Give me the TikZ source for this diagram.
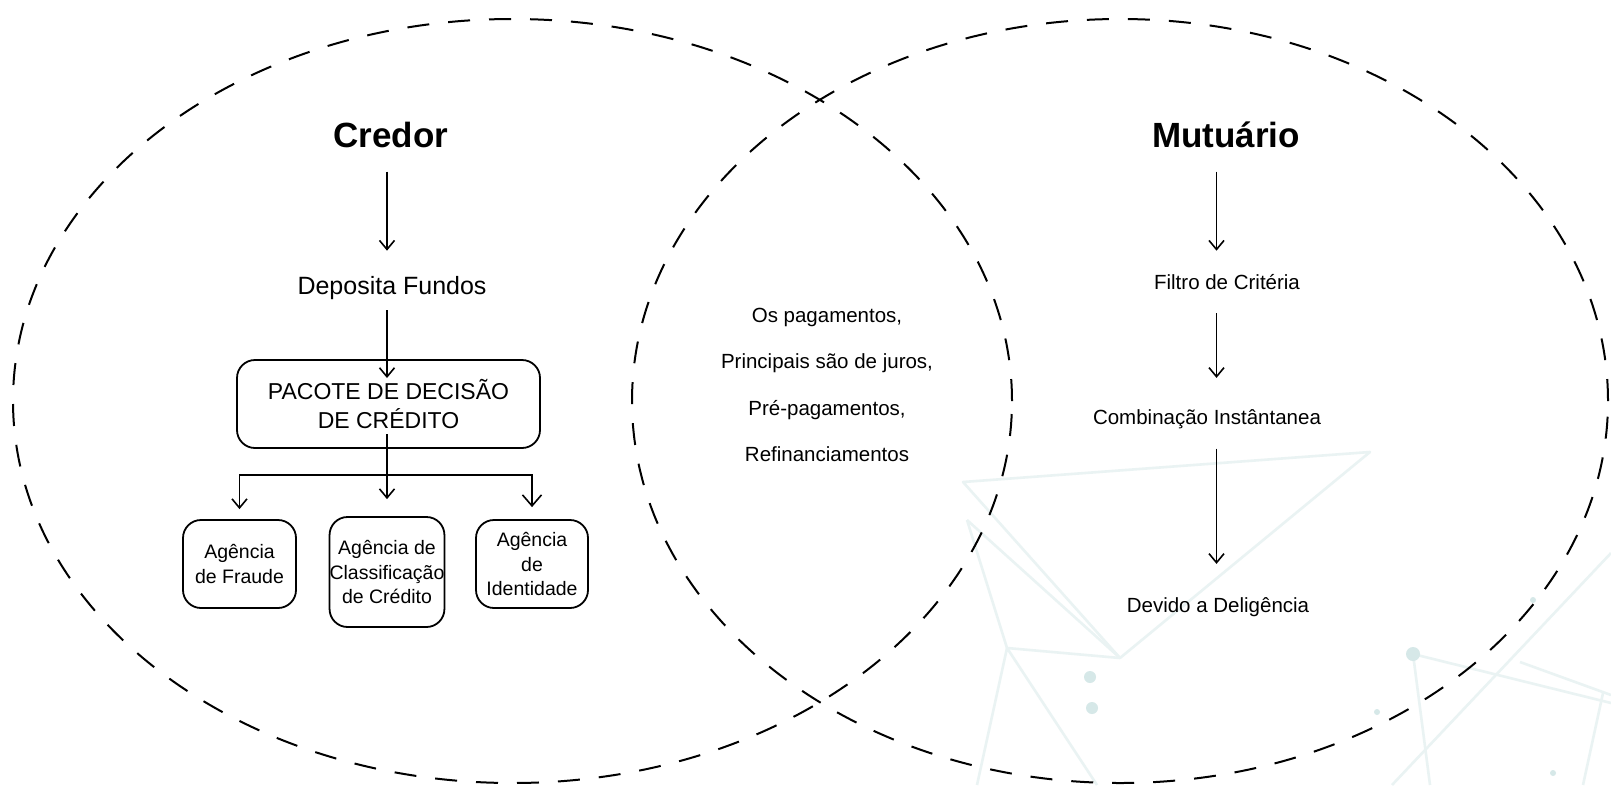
\documentclass[tikz,border=0pt]{standalone}
\usepackage{fontspec}
\setmainfont{Liberation Sans}
\usepackage{tikz}
\usetikzlibrary{positioning,calc,arrows.meta}
\definecolor{bgline}{RGB}{234,243,243}
\definecolor{bgdot}{RGB}{214,232,232}

\begin{document}
\begin{tikzpicture}[x=1pt,y=-1pt,
  seta/.style={line width=1.6pt, -{Straight Barb[length=9pt,width=15pt]}},
  circulo/.style={line width=2pt, dash pattern=on 22pt off 19pt},
  titulo/.style={anchor=base, inner sep=0pt, font=\fontsize{35}{40}\selectfont\bfseries},
  texto/.style={anchor=base, inner sep=0pt, font=\fontsize{20.5}{24}\selectfont},
  caixa/.style={draw, line width=1.8pt, rounded corners=18pt, align=center, inner sep=0pt, font=\fontsize{19.5}{24.5}\selectfont},
  fundo/.style={line width=2.6pt, bgline, line join=round},
  ponto/.style={fill=bgdot}]
\useasboundingbox (0,0) rectangle (1611,785);
\fill[white] (0,0) rectangle (1611,785);

\draw[fundo] (963,482) -- (1370,452) -- (1120,658) -- cycle;
\draw[fundo] (967,520) -- (1120,658);
\draw[fundo] (967,520) -- (1007,648) -- (1120,658);
\draw[fundo] (977,785) -- (1007,648) -- (1097,785);
\draw[fundo] (1430,785) -- (1413,654) -- (1611,703);
\draw[fundo] (1392,785) -- (1611,553);
\draw[fundo] (1520,662) -- (1611,695);
\draw[fundo] (1603,693) -- (1583,785);
\fill[ponto] (1090,677) circle[radius=6pt] (1092,708) circle[radius=6pt] (1413,654) circle[radius=7pt];
\fill[ponto] (1377,712) circle[radius=3pt] (1533,600) circle[radius=3pt] (1553,773) circle[radius=3pt];

\draw[circulo] (512.5,401) ellipse [x radius=499.5pt, y radius=382pt];
\draw[circulo] (1120,401) ellipse [x radius=488pt, y radius=382pt];

\node[titulo] (credor) at (391,147) {Credor};
\node[titulo] (mutuario) at (1226,147) {Mutuário};
\node[anchor=base, inner sep=0pt, font=\fontsize{25}{30}\selectfont] (deposita) at (392,294) {Deposita Fundos};
\node[caixa, minimum width=303pt, minimum height=88pt, font=\fontsize{23}{29}\selectfont] (pacote) at (388.5,404) {PACOTE DE DECISÃO\\DE CRÉDITO};
\node[caixa, minimum width=113pt, minimum height=88pt] (fraude) at (239.5,564) {Agência\\de Fraude};
\node[caixa, minimum width=112pt, minimum height=110pt] (classificacao) at (387,572) {Agência de\\Classificação\\de Crédito};
\node[caixa, minimum width=112pt, minimum height=88pt] (identidade) at (532,564) {Agência\\de\\Identidade};

\node[inner sep=0pt, align=center, font=\fontsize{20.5}{46.5}\selectfont] (pagamentos) at (827,385) {Os pagamentos,\\Principais são de juros,\\Pré-pagamentos,\\Refinanciamentos};

\node[texto] (filtro) at (1227,289) {Filtro de Critéria};
\node[texto] (combinacao) at (1207,424) {Combinação Instântanea};
\node[texto] (devido) at (1218,612) {Devido a Deligência};

\coordinate (colA) at (387,0);
\coordinate (colB) at (1216.5,0);
\coordinate (barra) at (387,475);
\draw[seta, shorten <=24pt, shorten >=25pt] (credor.south -| colA) -- (deposita.north -| colA);
\draw[seta, shorten <=11pt, shorten >=26pt] (deposita.south -| colA) -- (pacote.center -| colA);
\draw[seta, shorten <=30pt, shorten >=17pt] (pacote.center -| colA) -- (classificacao.north -| colA);
\draw[line width=1.6pt, {Straight Barb[length=9pt,width=15pt]}-{Straight Barb[length=11pt,width=19pt]}, shorten <=10pt, shorten >=12pt] (fraude.north) |- (barra) -| (identidade.north);

\draw[seta, shorten <=24pt, shorten >=23pt] (mutuario.south -| colB) -- (filtro.north -| colB);
\draw[seta, shorten <=24pt, shorten >=31pt] (filtro.south -| colB) -- (combinacao.north -| colB);
\draw[seta, shorten <=20pt, shorten >=33pt] (combinacao.south -| colB) -- (devido.north -| colB);
\end{tikzpicture}
\end{document}
